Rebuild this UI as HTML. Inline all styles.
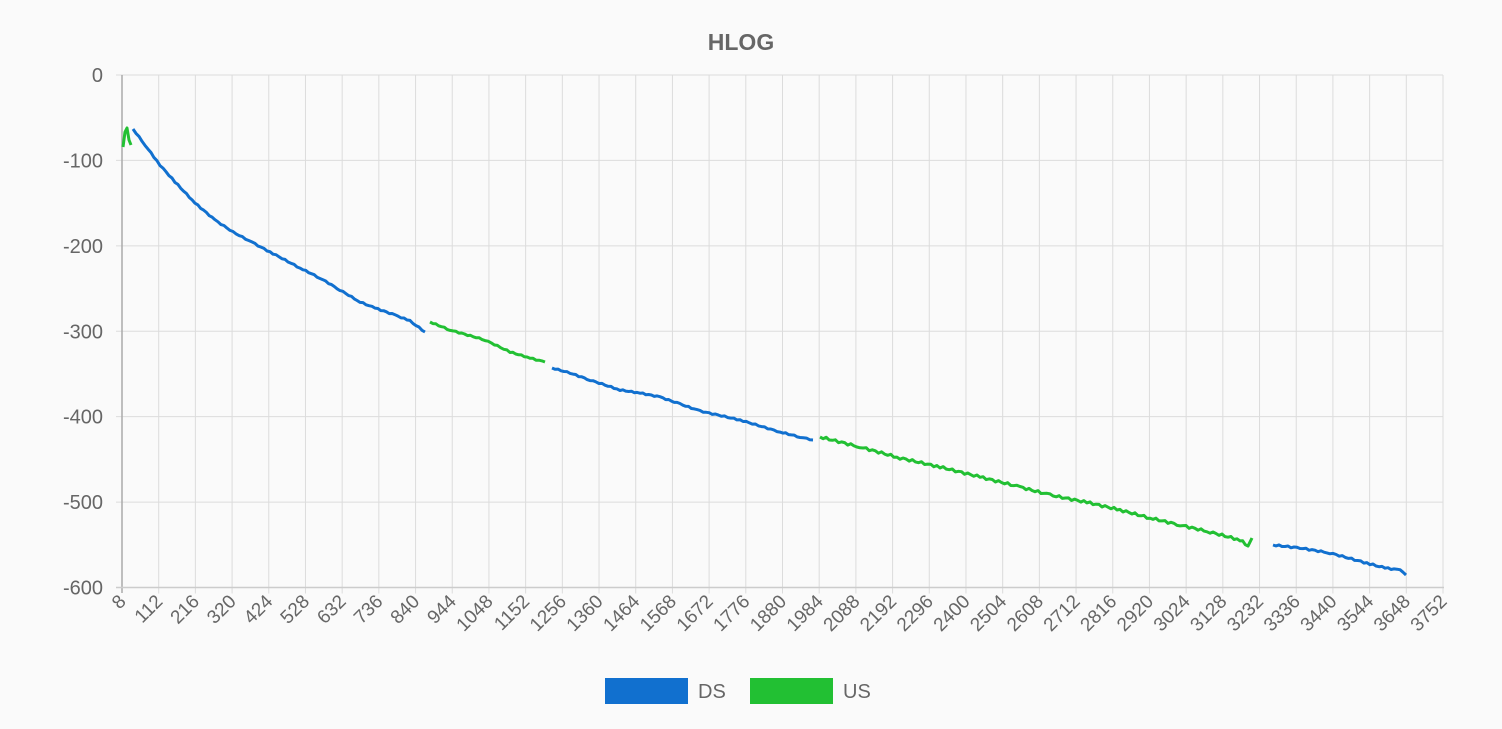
<!DOCTYPE html>
<html><head><style>
body{margin:0;background:#fafafa;}
svg text{font-family:"Liberation Sans",sans-serif;fill:#666;}
</style></head><body>
<svg width="1502" height="724" viewBox="0 0 1502 724" xmlns="http://www.w3.org/2000/svg">
<rect width="1502" height="724" fill="#fafafa"/>
<text x="741" y="50" text-anchor="middle" font-size="23" font-weight="bold" style="fill:#666">HLOG</text>
<g id="grid" stroke="#dcdcdc" stroke-width="1"></g>
<g id="lbl" font-size="19"></g>
<line x1="122" y1="75" x2="122" y2="593" stroke="#aaa" stroke-width="1.5"/>
<line x1="116" y1="587.5" x2="1444" y2="587.5" stroke="#ccc" stroke-width="1.5"/>
<g fill="none" stroke-width="3" stroke-linejoin="round" id="series"></g>
<rect x="605" y="678" width="83" height="26" fill="#1170cf"/>
<text x="698" y="698" font-size="20">DS</text>
<rect x="750" y="678" width="83" height="26" fill="#22c033"/>
<text x="843" y="698" font-size="20">US</text>
</svg>
<script>
var ns="http://www.w3.org/2000/svg",g=document.getElementById('grid'),l=document.getElementById('lbl');
function el(p,t,a,txt){var e=document.createElementNS(ns,t);for(var k in a)e.setAttribute(k,a[k]);if(txt)e.textContent=txt;p.appendChild(e);return e;}
var L=122,R=1443,T=75,B=587.5,dx=(R-L)/36;
for(var i=0;i<=36;i++){var x=L+i*dx;if(i>0)el(g,'line',{x1:x,y1:T,x2:x,y2:B+6});
var v=8+104*i;el(l,'text',{x:x+5,y:B+15,'text-anchor':'end',transform:'rotate(-45 '+(x+5)+' '+(B+15)+')'},String(v));}
for(var j=0;j<=6;j++){var y=T+j*(B-T)/6;el(g,'line',{x1:116,y1:y,x2:R,y2:y});
el(l,'text',{x:103,y:y+7,'text-anchor':'end','font-size':'20'},j==0?'0':'-'+j*100);}
var s=document.getElementById('series');
function line(pts,c,jit){var out=[];for(var k=0;k<pts.length-1;k++){var a=pts[k],b=pts[k+1],n=Math.max(1,Math.round((b[0]-a[0])/3));for(var m=0;m<n;m++){var t=m/n;out.push([a[0]+(b[0]-a[0])*t,a[1]+(b[1]-a[1])*t+(jit?(Math.sin(k*7+m*2.3)*jit):0)]);}}out.push(pts[pts.length-1]);
el(s,'polyline',{points:out.map(p=>p[0].toFixed(1)+','+p[1].toFixed(1)).join(' '),stroke:c});}
line([[123,147],[125,132],[127,128],[129,140],[131,145]],'#22c033',0);
line([[133,129],[145,145],[160,165],[175,182],[195,203],[215,220],[233,232],[255,244],[270,252],[300,268],[320,278],[340,290],[360,302],[375,308],[395,315],[410,321],[425,332]],'#1170cf',0.6);
line([[430,322],[450,330],[485,340],[510,352],[530,358],[545,362]],'#22c033',0.6);
line([[552,368],[570,373],[590,380],[620,390],[640,393],[660,397],[680,404],[700,411],[740,420],[780,432],[800,437],[813,440]],'#1170cf',0.6);
line([[820,437],[860,447],[900,458],[940,467],[980,477],[1020,487],[1050,495],[1090,503],[1120,510],[1150,518],[1180,525],[1210,532],[1240,540],[1248,546],[1252,538]],'#22c033',1.2);
line([[1273,545],[1300,548],[1330,553],[1370,564],[1385,568],[1400,570],[1406,575]],'#1170cf',0.8);
</script>
</body></html>
